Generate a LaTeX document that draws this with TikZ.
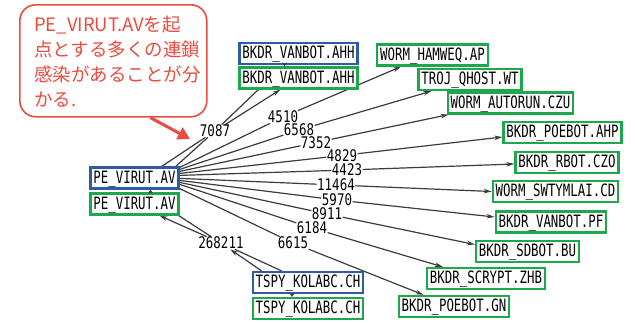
\documentclass[tikz,border=0pt]{standalone}
\usepackage{fontspec}
\newfontfamily\monof[FakeStretch=0.73]{DejaVu Sans Mono}
\newfontfamily\labf[FakeStretch=0.78]{DejaVu Sans Mono}
\newfontfamily\cjkf{Noto Sans CJK JP}
\usetikzlibrary{arrows.meta,backgrounds}
\definecolor{nblue}{RGB}{46,90,170}
\definecolor{ngreen}{RGB}{30,168,76}
\definecolor{cred}{RGB}{234,76,64}
\definecolor{eline}{RGB}{60,60,60}
\begin{document}
\begin{tikzpicture}[x=1pt,y=-1pt,
  vbox/.style={draw, line width=2.2pt, fill=white, font=\monof\fontsize{17}{20}\selectfont,
    text height=12.5pt, text depth=2.5pt, inner xsep=3pt, inner ysep=3pt},
  bluebox/.style={vbox, draw=nblue},
  greenbox/.style={vbox, draw=ngreen},
  elab/.style={font=\labf\fontsize{16}{18}\selectfont, fill=white, inner sep=0.4pt,
    text height=11.5pt, text depth=0pt},
  edge/.style={draw=eline, line width=1.2pt},
  arr/.style={edge, -{Stealth[length=8pt,width=4.5pt]}},
  arrs/.style={edge, -{Stealth[length=4pt,width=5pt]}},
  callbox/.style={draw=cred, line width=1.6pt, fill=white, rounded corners=16pt,
    minimum width=187pt, minimum height=112pt, anchor=north west, inner sep=0pt},
  calltext/.style={anchor=north west, inner sep=0pt, align=left, text=cred,
    font=\cjkf\fontsize{18.5}{25}\selectfont},
  callarrow/.style={draw=cred, line width=3pt, -{Triangle[length=12pt,width=13pt]}},
]
\useasboundingbox (0,0) rectangle (635,322);

% nodes
\node[bluebox]  (peB)      at (134.5,178)  {PE\_VIRUT.AV};
\node[greenbox] (peG)      at (134.5,204)  {PE\_VIRUT.AV};
\node[bluebox]  (vanA)     at (298.5,53.5) {BKDR\_VANBOT.AHH};
\node[greenbox] (vanG)     at (298.5,78)   {BKDR\_VANBOT.AHH};
\node[greenbox] (hamweq)   at (432.5,55)   {WORM\_HAMWEQ.AP};
\node[greenbox] (qhost)    at (470,79.5)   {TROJ\_QHOST.WT};
\node[greenbox] (autorun)  at (510.5,103)  {WORM\_AUTORUN.CZU};
\node[greenbox] (poeahp)   at (562.5,132.5){BKDR\_POEBOT.AHP};
\node[greenbox] (rbot)     at (567,162.5)  {BKDR\_RBOT.CZO};
\node[greenbox] (swty)     at (555.5,191.5){WORM\_SWTYMLAI.CD};
\node[greenbox] (vanpf)    at (551,222)    {BKDR\_VANBOT.PF};
\node[greenbox] (sdbot)    at (527.5,251.5){BKDR\_SDBOT.BU};
\node[greenbox] (scrypt)   at (486,278.5)  {BKDR\_SCRYPT.ZHB};
\node[greenbox] (poegn)    at (454,306.5)  {BKDR\_POEBOT.GN};
\node[bluebox]  (tspyB)    at (308,282.5)  {TSPY\_KOLABC.CH};
\node[greenbox] (tspyG)    at (308,308.5)  {TSPY\_KOLABC.CH};

% edge labels
\node[elab] (l7087)  at (215,131) {7087};
\node[elab] (l4510)  at (283,117) {4510};
\node[elab] (l6568)  at (299,130) {6568};
\node[elab] (l7352)  at (316,142.5) {7352};
\node[elab] (l4829)  at (342,155.5) {4829};
\node[elab] (l4423)  at (347,170) {4423};
\node[elab] (l11464) at (336,185) {11464};
\node[elab] (l5970)  at (337,200) {5970};
\node[elab] (l8911)  at (327,214) {8911};
\node[elab] (l6184)  at (312,228) {6184};
\node[elab] (l6615)  at (293,243) {6615};
\node[elab] (l268)   at (221,243) {268211};

\begin{pgfonlayer}{background}
\fill[white] (0,0) rectangle (635,322);
% 7087
\draw[edge] ([xshift=-18pt]peB.north east) -- (l7087);
\draw[edge] ([xshift=-4pt]peB.north east) -- (l7087);
\draw[edge] (l7087) -- ([xshift=20pt]vanG.south west);
\draw[arr]  (l7087) -- ([xshift=42pt]vanG.south west);
% fan
\draw[edge] ([yshift=-1pt]peB.north east) -- (l4510);
\draw[arr]  (l4510) -- ([xshift=25pt]hamweq.south west);
\draw[edge] ([yshift=-3pt]peB.north east) -- (l6568);
\draw[arr]  (l6568) -- ([xshift=14pt]qhost.south west);
\draw[edge] ([yshift=-5pt]peB.north east) -- (l7352);
\draw[arr]  (l7352) -- ([xshift=2pt]autorun.south west);
\draw[edge] ([yshift=-7pt]peB.north east) -- (l4829);
\draw[arr]  (l4829) -- ([yshift=-4.5pt]poeahp.west);
\draw[edge] ([yshift=-9pt]peB.north east) -- (l4423);
\draw[arr]  (l4423) -- ([yshift=-1.5pt]rbot.west);
\draw[edge] ([yshift=-12pt]peB.north east) -- (l11464);
\draw[arr]  (l11464) -- (swty.west);
\draw[edge] ([yshift=-14pt]peB.north east) -- (l5970);
\draw[arr]  (l5970) -- ([yshift=5pt]vanpf.west);
\draw[edge] ([yshift=-16pt]peB.north east) -- (l8911);
\draw[arr]  (l8911) -- ([yshift=7pt]sdbot.west);
\draw[edge] ([yshift=-18pt]peB.north east) -- (l6184);
\draw[arr]  (l6184) -- ([xshift=17pt]scrypt.north west);
\draw[edge] ([yshift=1pt]peB.south east) -- (l6615);
\draw[arr]  (l6615) -- ([xshift=26pt]poegn.north west);
% 268211
\draw[arr]  ([xshift=10pt]tspyB.north west) -- (l268);
\draw[edge] ([xshift=30pt]tspyB.north west) -- (l268);
\draw[arr]  (l268) -- ([xshift=25pt]peG.south);
\draw[edge] (l268) -- ([xshift=-1pt]peG.south east);
\end{pgfonlayer}

% short links between paired boxes
\draw[arrs] ([xshift=-14pt]vanA.south) -- ([xshift=-14pt]vanG.north);
\draw[arrs] ([xshift=-16pt]tspyB.south) -- ([xshift=-16pt]tspyG.north);
\draw[arrs] ([xshift=16pt]peG.north) -- ([xshift=16pt]peB.south);

% callout
\node[callbox] (callout) at (19,4) {};
\node[calltext] (ctext) at (34,16) {PE\_VIRUT.AVを起\\点とする多くの連鎖\\感染があることが分\\かる.};
\coordinate (ctip) at (190,139);
\draw[callarrow] ([xshift=37pt]callout.south) -- (ctip);
\end{tikzpicture}
\end{document}
